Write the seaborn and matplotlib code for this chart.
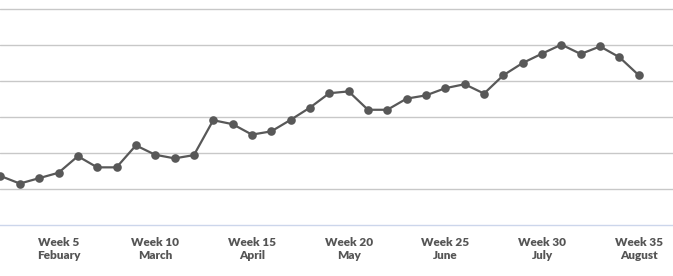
import seaborn as sns
import matplotlib.pyplot as plt
import pandas as pd

weeks = list(range(2, 36))
values = [13.7, 11.6, 13.1, 14.6, 19.2, 16.1, 16.1, 22.2, 19.6, 18.6,
          19.5, 29.2, 28.1, 25.2, 26.1, 29.3, 32.7, 36.7, 37.2, 32.1,
          32.1, 35.2, 36.1, 38.1, 39.2, 36.6, 41.7, 45.1, 47.7, 50.2,
          47.6, 49.7, 46.7, 41.7]
tick_weeks = [5, 10, 15, 20, 25, 30, 35]
tick_months = ['Febuary', 'March', 'April', 'May', 'June', 'July', 'August']

df = pd.DataFrame({'week': weeks, 'value': values})

sns.set_style('white')
plt.rcParams['font.family'] = ['Lato', 'DejaVu Sans']

fig = plt.figure(figsize=(6.73, 2.76), dpi=100)
ax = fig.add_axes([0, (276 - 225.3) / 276, 1, 225.3 / 276])

sns.lineplot(data=df, x='week', y='value', ax=ax, color='#585858',
             linewidth=1.6, marker='o', markersize=6.2,
             markeredgewidth=0, markerfacecolor='#585858', zorder=3)

ax.set_xlim(1.975, 36.77)
ax.set_ylim(0, 62.6)
ax.set_yticks([10, 20, 30, 40, 50, 60])
ax.yaxis.grid(True, color='#c8c8c8', linewidth=1)
ax.set_yticklabels([])
ax.tick_params(axis='y', length=0)

ax.set_xticks(tick_weeks)
ax.set_xticklabels([f'Week {w}\n{m}' for w, m in zip(tick_weeks, tick_months)],
                   fontsize=8.5, fontweight='heavy', color='#555555', linespacing=1.25)
ax.tick_params(axis='x', length=8, width=1, color='#ccd6eb', pad=0.5)

for side in ['top', 'left', 'right']:
    ax.spines[side].set_visible(False)
ax.spines['bottom'].set_color('#ccd6eb')
ax.spines['bottom'].set_linewidth(1)
ax.set_xlabel('')
ax.set_ylabel('')

plt.savefig('out.png', dpi=100)
